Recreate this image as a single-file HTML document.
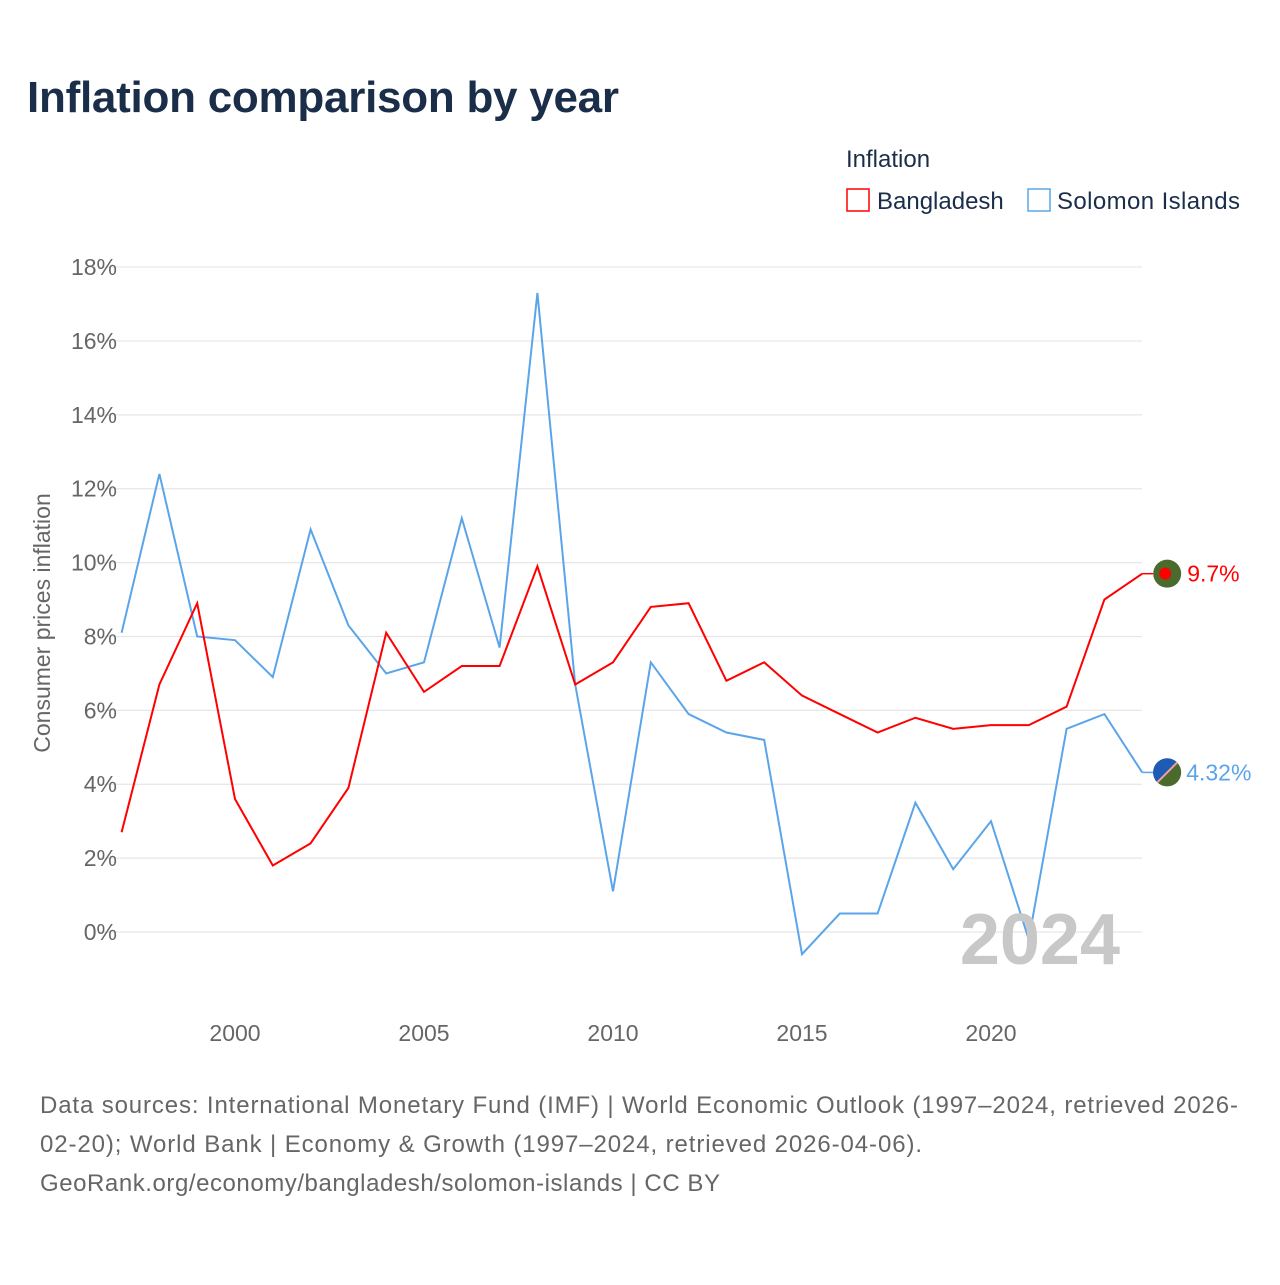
<!DOCTYPE html>
<html><head><meta charset="utf-8"><style>
body{margin:0;background:#fff;font-family:"Liberation Sans",sans-serif;}
svg text{font-family:"Liberation Sans",sans-serif;}
</style></head><body>
<svg id="c" width="1280" height="1280">
<text x="27" y="112" font-size="44" font-weight="bold" fill="#1a2e4a" textLength="592">Inflation comparison by year</text>
<text x="846" y="167" font-size="24" fill="#1a2e4a">Inflation</text>
<g><rect x="847" y="189" width="22" height="22" fill="none" stroke="#ff0000" stroke-width="1.5"/><text x="877" y="209" font-size="24" fill="#1a2e4a">Bangladesh</text></g>
<g><rect x="1028" y="189" width="22" height="22" fill="none" stroke="#5aa5ea" stroke-width="1.5"/><text x="1057" y="209" font-size="24" fill="#1a2e4a" textLength="183">Solomon Islands</text></g>
<text transform="translate(50,623) rotate(-90)" text-anchor="middle" font-size="23" fill="#666">Consumer prices inflation</text>
<g id="grid"></g><g id="series"></g>
<text x="1120" y="964" text-anchor="end" font-size="72" font-weight="bold" fill="#c8c8c8">2024</text>
<text x="40" y="1113" font-size="24" fill="#666" textLength="1198">Data sources: International Monetary Fund (IMF) | World Economic Outlook (1997–2024, retrieved 2026-</text>
<text x="40" y="1152" font-size="24" fill="#666" textLength="882">02-20); World Bank | Economy &amp; Growth (1997–2024, retrieved 2026-04-06).</text>
<text x="40" y="1191" font-size="24" fill="#666" textLength="680">GeoRank.org/economy/bangladesh/solomon-islands | CC BY</text>
</svg>
<script>
const years=[1997,1998,1999,2000,2001,2002,2003,2004,2005,2006,2007,2008,2009,2010,2011,2012,2013,2014,2015,2016,2017,2018,2019,2020,2021,2022,2023,2024];
const bangladesh=[2.7,6.7,8.9,3.6,1.8,2.4,3.9,8.1,6.5,7.2,7.2,9.9,6.7,7.3,8.8,8.9,6.8,7.3,6.4,5.9,5.4,5.8,5.5,5.6,5.6,6.1,9.0,9.7];
const solomon=[8.1,12.4,8.0,7.9,6.9,10.9,8.3,7.0,7.3,11.2,7.7,17.3,6.7,1.1,7.3,5.9,5.4,5.2,-0.6,0.5,0.5,3.5,1.7,3.0,-0.2,5.5,5.9,4.32];
const yTicks=[0,2,4,6,8,10,12,14,16,18];
const xTicks=[2000,2005,2010,2015,2020];
const NS="http://www.w3.org/2000/svg";
const X=v=>121.6+(v-1997)*37.8, Y=v=>932-v*36.94;
function mk(t,a,p){const e=document.createElementNS(NS,t);for(const k in a)e.setAttribute(k,a[k]);p.appendChild(e);return e;}
const g=document.getElementById('grid'), s=document.getElementById('series');
yTicks.forEach(t=>{
 const l=mk('line',{x1:100,x2:1142,y1:Y(t),y2:Y(t),stroke:'#e6e6e6','stroke-width':1.2},g);
 
 
 const tx=mk('text',{x:117,y:Y(t)+8,'text-anchor':'end','font-size':23,fill:'#666'},g);tx.textContent=t+'%';
 
 
});
xTicks.forEach(t=>{
 const tx=mk('text',{x:X(t),y:1041,'text-anchor':'middle','font-size':23,fill:'#666'},g);tx.textContent=t;
 
 
});
function line(d,c,name){
 const p=mk('path',{d:d.map((v,i)=>(i?'L':'M')+X(years[i])+','+Y(v)).join(''),fill:'none',stroke:c,'stroke-width':2},s);
 
 
}
line(solomon,'#5aa5ea','line-solomon-islands');
line(bangladesh,'#ff0000','line-bangladesh');
const bl=bangladesh[bangladesh.length-1], sl=solomon[solomon.length-1], xe=X(2024);
mk('line',{x1:xe,x2:xe+11,y1:Y(bl),y2:Y(bl),stroke:'#ff0000','stroke-width':1.5},s);
mk('line',{x1:xe,x2:xe+11,y1:Y(sl),y2:Y(sl),stroke:'#5aa5ea','stroke-width':1.5},s);
const f1=mk('g',{},s);


mk('circle',{cx:xe+25,cy:Y(bl),r:14,fill:'#4a6b2c'},f1);mk('circle',{cx:xe+23,cy:Y(bl),r:6,fill:'#ff0000'},f1);
const t1=mk('text',{x:xe+45,y:Y(bl)+8,'font-size':23,fill:'#ff0000'},s);t1.textContent=bl+'%';


const f2=mk('g',{},s);


const cy=Y(sl),cx=xe+25;
mk('circle',{cx:cx,cy:cy,r:14,fill:'#4a6b2c'},f2);
mk('path',{d:`M${cx+10},${cy-10} A14,14 0 0 0 ${cx-10},${cy+10} Z`,fill:'#1d5bb5'},f2);
mk('line',{x1:cx+10,y1:cy-10,x2:cx-10,y2:cy+10,stroke:'#f0a0a0','stroke-width':2},f2);
const t2=mk('text',{x:xe+44,y:cy+8,'font-size':23,fill:'#5aa5ea'},s);t2.textContent=sl+'%';


</script>
</body></html>
